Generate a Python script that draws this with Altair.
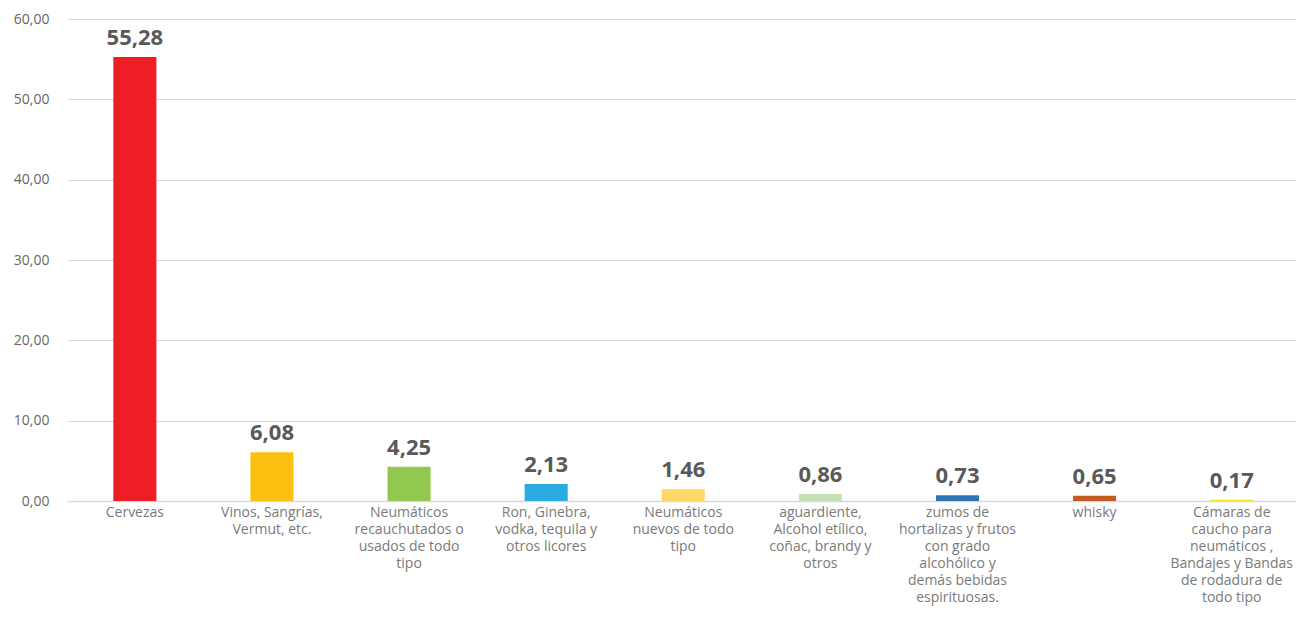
import altair as alt
import pandas as pd

categories = [
    "Cervezas",
    "Vinos, Sangrías,|Vermut, etc.",
    "Neumáticos|recauchutados o|usados de todo|tipo",
    "Ron, Ginebra,|vodka, tequila y|otros licores",
    "Neumáticos|nuevos  de todo|tipo",
    "aguardiente,|Alcohol etílico,|coñac, brandy y|otros",
    "zumos de|hortalizas y frutos|con grado|alcohólico y|demás bebidas|espirituosas.",
    "whisky",
    "Cámaras de|caucho para|neumáticos ,|Bandajes y Bandas|de rodadura de|todo tipo",
]
values = [55.28, 6.08, 4.25, 2.13, 1.46, 0.86, 0.73, 0.65, 0.17]
colors = ["#ED1F24", "#FDBF10", "#92C84F", "#2AABE2", "#FFD966",
          "#C5E0B4", "#2E75B6", "#C55A23", "#F5E61A"]

df = pd.DataFrame({
    "cat": categories,
    "val": values,
    "color": colors,
    "txt": [f"{v:.2f}".replace(".", ",") for v in values],
})

FONT = "Open Sans"

x = alt.X(
    "cat:N",
    sort=categories,
    title=None,
    scale=alt.Scale(paddingInner=0.686, paddingOuter=0.325, align=0.52),
    axis=alt.Axis(
        labelExpr="split(datum.label, '|')",
        labelAngle=0,
        labelFont=FONT,
        labelFontSize=14,
        labelColor="#7a7a7a",
        labelLineHeight=17,
        labelPadding=4,
        labelLimit=200,
        ticks=False,
        grid=False,
        domainColor="#d9d9d9",
        domainWidth=1.5,
    ),
)

y = alt.Y(
    "val:Q",
    title=None,
    scale=alt.Scale(domain=[0, 60]),
    axis=alt.Axis(
        values=[0, 10, 20, 30, 40, 50, 60],
        labelExpr="replace(format(datum.value, '.2f'), '.', ',')",
        labelFont=FONT,
        labelFontSize=14,
        labelColor="#666666",
        labelPadding=18,
        ticks=False,
        domain=False,
        gridColor="#d9d9d9",
        gridWidth=1,
    ),
)

bars = alt.Chart(df).mark_bar().encode(
    x=x, y=y, color=alt.Color("color:N", scale=None)
)

text = alt.Chart(df).mark_text(
    baseline="bottom", dy=-7, font=FONT, fontSize=22, fontWeight="bold", color="#595959"
).encode(x=alt.X("cat:N", sort=categories), y="val:Q", text="txt:N")

chart = (bars + text).properties(
    width=1229,
    height=482,
    padding={"left": 59, "top": 11, "right": 0, "bottom": 108},
    autosize=alt.AutoSizeParams(type="none"),
).configure(background="white").configure_view(stroke=None)

chart.save("out.html", embed_options={"renderer": "svg", "actions": False})
